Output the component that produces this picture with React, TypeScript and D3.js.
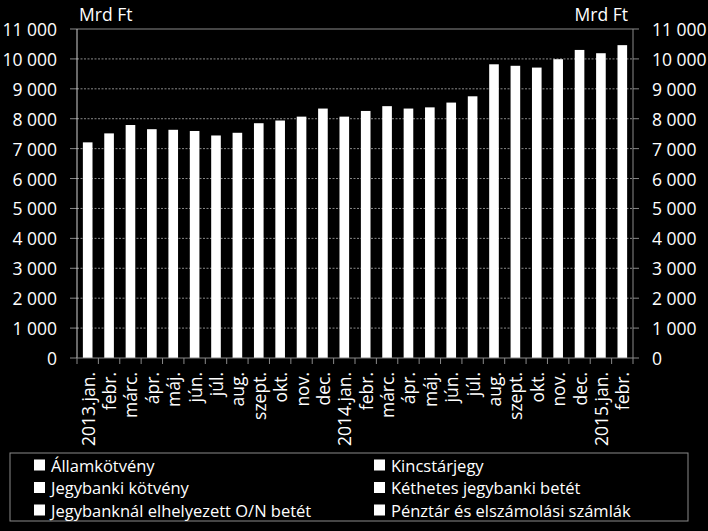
import React from "react";
import * as d3 from "d3";

const categories = [
  "2013.jan.", "febr.", "márc.", "ápr.", "máj.", "jún.", "júl.", "aug.", "szept.", "okt.", "nov.", "dec.",
  "2014.jan.", "febr.", "márc.", "ápr.", "máj.", "jún.", "júl.", "aug.", "szept.", "okt.", "nov.", "dec.",
  "2015.jan.", "febr.",
];
const values = [
  7210, 7510, 7790, 7650, 7630, 7590, 7440, 7530, 7850, 7940, 8070, 8340,
  8070, 8260, 8420, 8340, 8380, 8540, 8750, 9820, 9770, 9710, 9990, 10300,
  10190, 10460,
];
const yTicks = [0, 1000, 2000, 3000, 4000, 5000, 6000, 7000, 8000, 9000, 10000, 11000];
const unitLabel = "Mrd Ft";
const legendItems = [
  "Államkötvény", "Kincstárjegy",
  "Jegybanki kötvény", "Kéthetes jegybanki betét",
  "Jegybanknál elhelyezett O/N betét", "Pénztár és elszámolási számlák",
];

const W = 708, H = 531;
const L = 77, R = 633, T = 29, B = 358;
const FONT = "'Open Sans', sans-serif";
const FS = 17.5;
const LFS = 16.5;

const fmt = (v: number) => {
  const s = String(v);
  return s.length > 3 ? s.slice(0, s.length - 3) + " " + s.slice(-3) : s;
};

export default function App() {
  const idx = categories.map((_, i) => i);
  const x = d3.scaleBand<number>().domain(idx).range([L, R]).paddingInner(0.55).paddingOuter(0.275);
  const y = d3.scaleLinear().domain([0, 11000]).range([B, T]);
  const step = x.step();

  return (
    <svg width={W} height={H} style={{ position: "absolute", left: 0, top: 0 }} fontFamily={FONT}>
      <rect x={0} y={0} width={W} height={H} fill="#000" />
      {yTicks.map((t) => (
        <g key={"g" + t}>
          {t > 0 && t < 11000 && (
            <line x1={L} x2={R} y1={y(t)} y2={y(t)} stroke="#8a8a8a" strokeWidth={1} strokeDasharray="2,1.5" />
          )}
          {t === 11000 && <line x1={L} x2={R} y1={y(t)} y2={y(t)} stroke="#8a8a8a" strokeWidth={1} />}
          <line x1={L - 7} x2={L} y1={y(t)} y2={y(t)} stroke="#8a8a8a" />
          <line x1={R} x2={R + 6} y1={y(t)} y2={y(t)} stroke="#8a8a8a" />
          <text x={57} y={y(t)} textAnchor="end" dominantBaseline="central" fill="#fff" fontSize={FS}>
            {fmt(t)}
          </text>
          <text x={652} y={y(t)} textAnchor="start" dominantBaseline="central" fill="#fff" fontSize={FS}>
            {fmt(t)}
          </text>
        </g>
      ))}
      {values.map((v, i) => (
        <rect key={"b" + i} x={x(i)} y={y(v)} width={x.bandwidth()} height={y(0) - y(v)} fill="#fff" />
      ))}
      <line x1={L} x2={L} y1={T} y2={B} stroke="#d0d0d0" />
      <line x1={R} x2={R} y1={T} y2={B} stroke="#8a8a8a" />
      <line x1={L} x2={R} y1={B} y2={B} stroke="#8a8a8a" />
      {d3.range(categories.length + 1).map((k) => (
        <line key={"t" + k} x1={L + k * step} x2={L + k * step} y1={B} y2={B + 6} stroke="#8a8a8a" />
      ))}
      {categories.map((c, i) => {
        const cx = (x(i) as number) + x.bandwidth() / 2;
        return (
          <text
            key={"c" + i}
            transform={`translate(${cx},${372}) rotate(-90)`}
            textAnchor="end"
            dominantBaseline="central"
            fill="#fff"
            fontSize={FS}
          >
            {c}
          </text>
        );
      })}
      <text x={79} y={21} fill="#fff" fontSize={FS}>{unitLabel}</text>
      <text x={628} y={21} fill="#fff" fontSize={FS} textAnchor="end">{unitLabel}</text>
      <rect x={10} y={453} width={678} height={68} fill="none" stroke="#8a8a8a" />
      {legendItems.map((it, i) => {
        const col = i % 2;
        const row = Math.floor(i / 2);
        const lx = col === 0 ? 34 : 374;
        const ly = 465 + row * 22.5;
        return (
          <g key={"l" + i}>
            <rect x={lx} y={ly - 5.5} width={11} height={11} fill="#fff" />
            <text x={lx + 17} y={ly} dominantBaseline="central" fill="#fff" fontSize={LFS}>
              {it}
            </text>
          </g>
        );
      })}
    </svg>
  );
}
